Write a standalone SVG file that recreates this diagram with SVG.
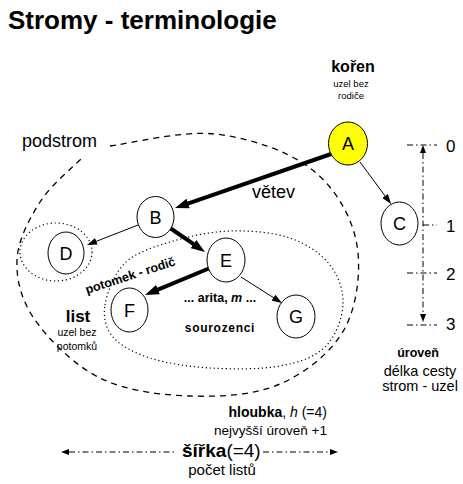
<svg xmlns="http://www.w3.org/2000/svg" width="463" height="484" viewBox="0 0 463 484">
<style>
text{font-family:"Liberation Sans",Arial,sans-serif;fill:#000}
.node ellipse{fill:#fff;stroke:#000;stroke-width:1}
.node text{font-size:18px;text-anchor:middle}
.thin{stroke:#000;stroke-width:1;fill:none}
.thick{stroke:#000;stroke-width:4;fill:none}
.dashed{stroke:#000;stroke-width:1.3;fill:none;stroke-dasharray:6 5}
.dotted{stroke:#000;stroke-width:1.2;fill:none;stroke-dasharray:1.2 2.8}
.dashdot{stroke:#000;stroke-width:1;fill:none;stroke-dasharray:6 3 1.5 3}
.c{text-anchor:middle}
.b{font-weight:bold}
</style>
<defs>
<marker id="ahThin" markerUnits="userSpaceOnUse" markerWidth="10" markerHeight="7" refX="1" refY="3.5" orient="auto"><path d="M0,0 L10,3.5 L0,7 z" fill="#000"/></marker>
<marker id="ahThick" markerUnits="userSpaceOnUse" markerWidth="14" markerHeight="10" refX="2" refY="5" orient="auto"><path d="M0,0 L14,5 L0,10 z" fill="#000"/></marker>
<marker id="ahSmall" markerUnits="userSpaceOnUse" markerWidth="8" markerHeight="6" refX="0" refY="3" orient="auto-start-reverse"><path d="M0,0 L8,3 L0,6 z" fill="#000"/></marker>
</defs>

<text x="8" y="29" class="b" style="font-size:26px">Stromy - terminologie</text>

<g id="regions">
<path class="dashed" d="M110,146 C127.5,144 181.7,130.3 215,134 C248.3,137.7 286.5,150.3 310,168 C333.5,185.7 350.2,213.3 356,240 C361.8,266.7 357.7,304 345,328 C332.3,352 305.8,372.7 280,384 C254.2,395.3 220,397 190,396 C160,395 125.8,390.7 100,378 C74.2,365.3 48.8,339.7 35,320 C21.2,300.3 16.2,279.7 17,260 C17.8,240.3 29.2,219 40,202 C50.8,185 75,165.3 82,158"/>
<ellipse class="dotted" cx="56" cy="252" rx="36" ry="29"/>
<path class="dotted" d="M105,305 C107,292.7 114.2,273.5 125,263 C135.8,252.5 152.5,247.3 170,242 C187.5,236.7 210,231.7 230,231 C250,230.3 273.3,232.3 290,238 C306.7,243.7 321.2,253.8 330,265 C338.8,276.2 343.8,291.3 343,305 C342.2,318.7 335.5,336.8 325,347 C314.5,357.2 299.2,362.5 280,366 C260.8,369.5 231.7,369.3 210,368 C188.3,366.7 166.2,363.2 150,358 C133.8,352.8 120.5,345.8 113,337 C105.5,328.2 103,317.3 105,305 z"/>
</g>

<g id="connectors">
<line class="thick" x1="334" y1="153" x2="186.3" y2="204.1" marker-end="url(#ahThick)"/>
<line class="thick" x1="170" y1="228" x2="195.1" y2="245.2" marker-end="url(#ahThick)"/>
<line class="thick" x1="210" y1="268" x2="156.1" y2="290.4" marker-end="url(#ahThick)"/>
<line class="thin" x1="360" y1="162" x2="385.7" y2="196.8" marker-end="url(#ahThin)"/>
<line class="thin" x1="138" y1="225" x2="95.4" y2="241.7" marker-end="url(#ahThin)"/>
<line class="thin" x1="241" y1="277" x2="274.4" y2="298.2" marker-end="url(#ahThin)"/>
</g>

<g id="node-A" class="node"><ellipse cx="348" cy="143.5" rx="19.5" ry="21.5" style="fill:#ffff00"/><text x="348" y="150">A</text></g>
<g id="node-B" class="node"><ellipse cx="155.5" cy="217" rx="18.5" ry="20.5"/><text x="155.5" y="223.5">B</text></g>
<g id="node-C" class="node"><ellipse cx="399.5" cy="223.5" rx="18.5" ry="21.5"/><text x="399.5" y="230">C</text></g>
<g id="node-D" class="node"><ellipse cx="66" cy="253" rx="18" ry="21"/><text x="66" y="259.5">D</text></g>
<g id="node-E" class="node"><ellipse cx="226" cy="260" rx="19" ry="22"/><text x="226" y="266.5">E</text></g>
<g id="node-F" class="node"><ellipse cx="129.5" cy="310" rx="18.5" ry="22"/><text x="129.5" y="316.5">F</text></g>
<g id="node-G" class="node"><ellipse cx="296" cy="316.5" rx="19" ry="21.5"/><text x="296" y="323">G</text></g>

<g id="labels">
<text x="353" y="72" class="c b" style="font-size:16px">kořen</text>
<text x="351" y="87" class="c" style="font-size:9.5px">uzel bez</text>
<text x="351" y="99" class="c" style="font-size:9.5px">rodiče</text>
<text x="22" y="147" style="font-size:18px">podstrom</text>
<text x="252" y="198" style="font-size:18px">větev</text>
<text x="78" y="322" class="c b" style="font-size:17px">list</text>
<text x="77" y="336" class="c" style="font-size:10.5px">uzel bez</text>
<text x="77" y="350" class="c" style="font-size:10.5px">potomků</text>
<text x="87" y="294" class="b" style="font-size:12.5px" transform="rotate(-18 87 294)">potomek - rodič</text>
<text x="220" y="302" class="c b" style="font-size:12.5px">... arita, <tspan font-style="italic">m</tspan> ...</text>
<text x="220" y="332" class="c b" style="font-size:12px;letter-spacing:0.7px">sourozenci</text>
</g>

<g id="levels">
<line class="dashdot" x1="423" y1="153" x2="423" y2="314" marker-start="url(#ahSmall)" marker-end="url(#ahSmall)"/>
<line class="dashdot" x1="407" y1="145" x2="437" y2="145"/>
<line class="dashdot" x1="423" y1="225" x2="437" y2="225"/>
<line class="dashdot" x1="407" y1="273" x2="437" y2="273"/>
<line class="dashdot" x1="407" y1="325" x2="437" y2="325"/>
<text x="446" y="152" style="font-size:17px">0</text>
<text x="446" y="232" style="font-size:17px">1</text>
<text x="446" y="280" style="font-size:17px">2</text>
<text x="446" y="330" style="font-size:17px">3</text>
<text x="418" y="357" class="c b" style="font-size:12.5px">úroveň</text>
<text x="420" y="376" class="c" style="font-size:14.5px">délka cesty</text>
<text x="420" y="391" class="c" style="font-size:14.5px">strom - uzel</text>
</g>

<g id="bottom">
<text x="327" y="417" style="font-size:14px;text-anchor:end"><tspan font-weight="bold">hloubka</tspan>, <tspan font-style="italic">h</tspan> (=4)</text>
<text x="327" y="435" style="font-size:13.5px;text-anchor:end">nejvyšší úroveň +1</text>
<line class="dashdot" x1="69" y1="452" x2="176" y2="452" marker-start="url(#ahSmall)"/>
<line class="dashdot" x1="263" y1="452" x2="330" y2="452" marker-end="url(#ahSmall)"/>
<text x="182" y="457" style="font-size:19px"><tspan font-weight="bold">šířka</tspan>(=4)</text>
<text x="222" y="475" class="c" style="font-size:15px">počet listů</text>
</g>
</svg>
